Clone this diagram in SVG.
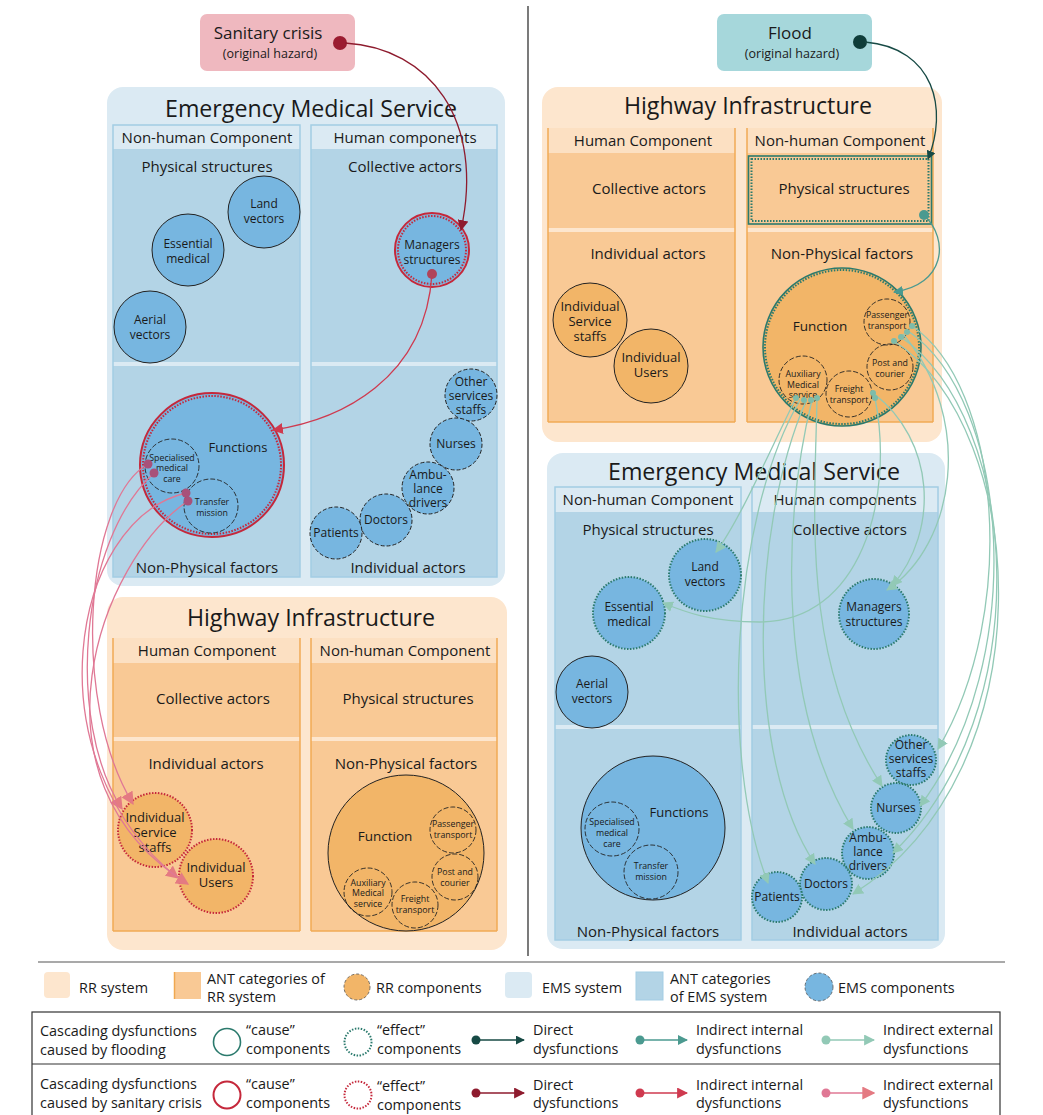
<svg xmlns="http://www.w3.org/2000/svg" width="1043" height="1115" viewBox="0 0 1043 1115">
<defs>
<style>
text{font-family:"Open Sans","Noto Sans",sans-serif;fill:#1a1a1a}
.ttl{font-size:23.2px;text-anchor:middle}
.hdr{font-size:15px;text-anchor:middle}
.cat{font-size:15px;text-anchor:middle}
.lbl{font-size:12px;text-anchor:middle}
.lbl13{font-size:13px;text-anchor:middle}
.sm{font-size:8.8px;text-anchor:middle}
.leg{font-size:14.4px}
.emsSys{fill:#dbeaf3}
.emsCell{fill:#b3d4e6}
.emsCol{fill:none;stroke:#a3cde4;stroke-width:1.5}
.rrSys{fill:#fde6ce}
.rrHdr{fill:#fce0c2}
.rrCell{fill:#f9c995}
.rrCol{fill:none;stroke:#f0aa55;stroke-width:1.5}
.ems{fill:#77b6e0;stroke:#222;stroke-width:1}
.rr{fill:#f2b568;stroke:#222;stroke-width:1}
.sub{fill:none;stroke:#222;stroke-width:0.9;stroke-dasharray:5 2}
.gEff{fill:none;stroke:#2b7a6d;stroke-width:2;stroke-dasharray:1.5 1.5}
.gCause{fill:none;stroke:#2b7a6d;stroke-width:1.6}
.rEff{fill:none;stroke:#c5283b;stroke-width:2;stroke-dasharray:1.5 1.5}
.rCause{fill:none;stroke:#c5283b;stroke-width:2}
.gDir{fill:none;stroke:#174a45;stroke-width:1.3}
.gInt{fill:none;stroke:#4b9a90;stroke-width:1.3}
.gExt{fill:none;stroke:#92c9b6;stroke-width:1.3}
.rDir{fill:none;stroke:#8e1b2e;stroke-width:1.3}
.rInt{fill:none;stroke:#cf3a4f;stroke-width:1.3}
.rExt{fill:none;stroke:#e07895;stroke-width:1.3}
</style>
<marker id="aGDir" viewBox="0 0 10 10" refX="9" refY="5" markerWidth="9" markerHeight="9" markerUnits="userSpaceOnUse" orient="auto"><path d="M0,0 L10,5 L0,10 z" fill="#174a45"/></marker>
<marker id="aGInt" viewBox="0 0 10 10" refX="9" refY="5" markerWidth="10" markerHeight="10" markerUnits="userSpaceOnUse" orient="auto"><path d="M0,0 L10,5 L0,10 z" fill="#4b9a90"/></marker>
<marker id="aGExt" viewBox="0 0 10 10" refX="9" refY="5" markerWidth="11" markerHeight="11" markerUnits="userSpaceOnUse" orient="auto"><path d="M0,0 L10,5 L0,10 z" fill="#92c9b6"/></marker>
<marker id="aRDir" viewBox="0 0 10 10" refX="9" refY="5" markerWidth="11" markerHeight="11" markerUnits="userSpaceOnUse" orient="auto"><path d="M0,0 L10,5 L0,10 z" fill="#8e1b2e"/></marker>
<marker id="aRInt" viewBox="0 0 10 10" refX="9" refY="5" markerWidth="11" markerHeight="11" markerUnits="userSpaceOnUse" orient="auto"><path d="M0,0 L10,5 L0,10 z" fill="#cf3a4f"/></marker>
<marker id="aRExt" viewBox="0 0 10 10" refX="9" refY="5" markerWidth="13" markerHeight="13" markerUnits="userSpaceOnUse" orient="auto"><path d="M0,0 L10,5 L0,10 z" fill="#e47a82"/></marker>
</defs>
<rect width="1043" height="1115" fill="#fff"/>
<line x1="528" y1="6" x2="528" y2="956" stroke="#222" stroke-width="1.2"/>

<g id="sanitary-crisis">
<rect x="200" y="14" width="155" height="57" rx="7" fill="#efb8bf"/>
<text x="268" y="39" style="font-size:17px;text-anchor:middle">Sanitary crisis</text>
<text x="270" y="58" style="font-size:12.5px;text-anchor:middle">(original hazard)</text>
<circle cx="340" cy="43" r="7" fill="#9b1b30"/>
</g>

<g id="ems-left">
<rect x="107" y="87" width="398" height="499" rx="16" class="emsSys"/>
<text x="311" y="117" class="ttl">Emergency Medical Service</text>
<rect x="113" y="149" width="187" height="213" class="emsCell"/>
<rect x="113" y="366" width="187" height="211" class="emsCell"/>
<rect x="311" y="149" width="186" height="213" class="emsCell"/>
<rect x="311" y="366" width="186" height="211" class="emsCell"/>
<rect x="113" y="125" width="187" height="452" class="emsCol"/>
<rect x="311" y="125" width="186" height="452" class="emsCol"/>
<text x="207" y="143" class="hdr">Non-human Component</text>
<text x="405" y="143" class="hdr">Human components</text>
<text x="207" y="172" class="cat">Physical structures</text>
<text x="405" y="172" class="cat">Collective actors</text>
<text x="207" y="573" class="cat">Non-Physical factors</text>
<text x="408" y="573" class="cat">Individual actors</text>
</g>
<g id="l-land-vectors"><circle cx="264" cy="212" r="36" class="ems"/><text class="lbl"><tspan x="264" y="208">Land</tspan><tspan x="264" y="223">vectors</tspan></text></g>
<g id="l-essential-medical"><circle cx="188" cy="250" r="36" class="ems"/><text class="lbl"><tspan x="188" y="248">Essential</tspan><tspan x="188" y="263">medical</tspan></text></g>
<g id="l-aerial-vectors"><circle cx="150" cy="327" r="36" class="ems"/><text class="lbl"><tspan x="150" y="324">Aerial</tspan><tspan x="150" y="339">vectors</tspan></text></g>
<g id="l-managers"><circle cx="432" cy="250" r="36" fill="#77b6e0"/><circle cx="432" cy="250" r="37" class="rCause"/><circle cx="432" cy="250" r="34" class="rEff" stroke-width="1.4"/><text class="lbl"><tspan x="432" y="249">Managers</tspan><tspan x="432" y="264">structures</tspan></text></g>
<g id="l-functions"><circle cx="212" cy="465" r="72" fill="#77b6e0"/><circle cx="212" cy="465" r="72" class="rCause"/><circle cx="212" cy="465" r="69" class="rEff" stroke-width="1.4"/>
<text x="238" y="452" class="lbl13">Functions</text>
<circle cx="172" cy="466" r="27" class="sub"/><text class="sm"><tspan x="172" y="461">Specialised</tspan><tspan x="172" y="471">medical</tspan><tspan x="172" y="482">care</tspan></text>
<circle cx="211" cy="506" r="27" class="sub"/><text class="sm"><tspan x="212" y="505">Transfer</tspan><tspan x="212" y="516">mission</tspan></text></g>
<g id="l-other-staffs"><circle cx="471" cy="395" r="26" class="ems" stroke-dasharray="4 2"/><text class="lbl"><tspan x="471" y="386">Other</tspan><tspan x="471" y="400">services</tspan><tspan x="471" y="414">staffs</tspan></text></g>
<g id="l-nurses"><circle cx="456" cy="444" r="26" class="ems" stroke-dasharray="4 2"/><text x="456" y="448" class="lbl">Nurses</text></g>
<g id="l-ambulance"><circle cx="428" cy="488" r="26" class="ems" stroke-dasharray="4 2"/><text class="lbl"><tspan x="428" y="479">Ambu-</tspan><tspan x="428" y="493">lance</tspan><tspan x="428" y="507">drivers</tspan></text></g>
<g id="l-doctors"><circle cx="386" cy="520" r="26" class="ems" stroke-dasharray="4 2"/><text x="386" y="524" class="lbl">Doctors</text></g>
<g id="l-patients"><circle cx="336" cy="533" r="26" class="ems" stroke-dasharray="4 2"/><text x="336" y="537" class="lbl">Patients</text></g>

<g id="hi-left">
<rect x="107" y="597" width="400" height="353" rx="16" class="rrSys"/>
<text x="311" y="626" class="ttl">Highway Infrastructure</text>
<rect x="113" y="638" width="187" height="25" class="rrHdr"/>
<rect x="311" y="638" width="186" height="25" class="rrHdr"/>
<rect x="113" y="663" width="187" height="74" class="rrCell"/>
<rect x="113" y="741" width="187" height="190" class="rrCell"/>
<rect x="311" y="663" width="186" height="74" class="rrCell"/>
<rect x="311" y="741" width="186" height="190" class="rrCell"/>
<line x1="113" y1="638" x2="113" y2="931" class="rrCol"/><line x1="300" y1="638" x2="300" y2="931" class="rrCol"/>
<line x1="311" y1="638" x2="311" y2="931" class="rrCol"/><line x1="497" y1="638" x2="497" y2="931" class="rrCol"/>
<line x1="113" y1="931" x2="300" y2="931" class="rrCol"/><line x1="311" y1="931" x2="497" y2="931" class="rrCol"/>
<text x="207" y="656" class="hdr">Human Component</text>
<text x="405" y="656" class="hdr">Non-human Component</text>
<text x="213" y="704" class="cat">Collective actors</text>
<text x="408" y="704" class="cat">Physical structures</text>
<text x="206" y="769" class="cat">Individual actors</text>
<text x="406" y="769" class="cat">Non-Physical factors</text>
</g>
<g id="l-ind-service-staffs"><circle cx="155" cy="830" r="37" fill="#f2b568"/><circle cx="155" cy="830" r="37" class="rEff"/><text class="lbl13"><tspan x="155" y="822">Individual</tspan><tspan x="155" y="837">Service</tspan><tspan x="155" y="852">staffs</tspan></text></g>
<g id="l-ind-users"><circle cx="216" cy="876" r="37" fill="#f2b568"/><circle cx="216" cy="876" r="37" class="rEff"/><text class="lbl13"><tspan x="216" y="872">Individual</tspan><tspan x="216" y="887">Users</tspan></text></g>
<g id="l-function"><circle cx="406" cy="853" r="78" class="rr"/>
<text x="385" y="841" style="font-size:13.5px;text-anchor:middle">Function</text>
<circle cx="453" cy="830" r="23" class="sub"/><text class="sm"><tspan x="453" y="827">Passenger</tspan><tspan x="453" y="838">transport</tspan></text>
<circle cx="455" cy="877" r="23" class="sub"/><text class="sm"><tspan x="455" y="875">Post and</tspan><tspan x="455" y="886">courier</tspan></text>
<circle cx="368" cy="892" r="24" class="sub"/><text class="sm"><tspan x="368" y="886">Auxiliary</tspan><tspan x="368" y="896">Medical</tspan><tspan x="368" y="907">service</tspan></text>
<circle cx="415" cy="905" r="23" class="sub"/><text class="sm"><tspan x="415" y="902">Freight</tspan><tspan x="415" y="913">transport</tspan></text></g>

<g id="flood">
<rect x="717" y="14" width="155" height="57" rx="7" fill="#a6d7db"/>
<text x="790" y="39" style="font-size:17px;text-anchor:middle">Flood</text>
<text x="792" y="58" style="font-size:12.5px;text-anchor:middle">(original hazard)</text>
<circle cx="860" cy="42" r="7" fill="#0f3d3a"/>
</g>

<g id="hi-right">
<rect x="542" y="87" width="400" height="355" rx="16" class="rrSys"/>
<text x="748" y="114" class="ttl">Highway Infrastructure</text>
<rect x="548" y="128" width="187" height="25" class="rrHdr"/>
<rect x="747" y="128" width="186" height="25" class="rrHdr"/>
<rect x="548" y="153" width="187" height="75" class="rrCell"/>
<rect x="548" y="232" width="187" height="190" class="rrCell"/>
<rect x="747" y="153" width="186" height="75" class="rrCell"/>
<rect x="747" y="232" width="186" height="190" class="rrCell"/>
<line x1="548" y1="128" x2="548" y2="422" class="rrCol"/><line x1="735" y1="128" x2="735" y2="422" class="rrCol"/>
<line x1="747" y1="128" x2="747" y2="422" class="rrCol"/><line x1="933" y1="128" x2="933" y2="422" class="rrCol"/>
<line x1="548" y1="422" x2="735" y2="422" class="rrCol"/><line x1="747" y1="422" x2="933" y2="422" class="rrCol"/>
<text x="643" y="146" class="hdr">Human Component</text>
<text x="840" y="146" class="hdr">Non-human Component</text>
<text x="649" y="194" class="cat">Collective actors</text>
<text x="648" y="259" class="cat">Individual actors</text>
<text x="842" y="259" class="cat">Non-Physical factors</text>
</g>
<g id="r-physical-structures"><rect x="748.5" y="156" width="183" height="68" class="gCause"/><rect x="751.5" y="159" width="177" height="62" class="gEff" stroke-width="1.6"/><text x="844" y="194" class="cat">Physical structures</text><circle cx="924" cy="215" r="5" fill="#4b9a90"/></g>
<g id="r-ind-service-staffs"><circle cx="590" cy="320" r="37" class="rr"/><text class="lbl13"><tspan x="590" y="311">Individual</tspan><tspan x="590" y="326">Service</tspan><tspan x="590" y="341">staffs</tspan></text></g>
<g id="r-ind-users"><circle cx="651" cy="366" r="37" class="rr"/><text class="lbl13"><tspan x="651" y="362">Individual</tspan><tspan x="651" y="377">Users</tspan></text></g>
<g id="r-function"><circle cx="842" cy="347" r="79" fill="#f2b568"/><circle cx="842" cy="347" r="79" class="gCause"/><circle cx="842" cy="347" r="77" class="gEff" stroke-width="2.4"/>
<text x="820" y="331" style="font-size:13.5px;text-anchor:middle">Function</text>
<circle cx="887" cy="322" r="23" class="sub"/><text class="sm"><tspan x="887" y="318">Passenger</tspan><tspan x="887" y="329">transport</tspan></text>
<circle cx="890" cy="367" r="23" class="sub"/><text class="sm"><tspan x="890" y="366">Post and</tspan><tspan x="890" y="377">courier</tspan></text>
<circle cx="803" cy="380" r="24" class="sub"/><text class="sm"><tspan x="803" y="377">Auxiliary</tspan><tspan x="803" y="388">Medical</tspan><tspan x="803" y="398">service</tspan></text>
<circle cx="849" cy="394" r="23" class="sub"/><text class="sm"><tspan x="849" y="392">Freight</tspan><tspan x="849" y="403">transport</tspan></text></g>

<g id="ems-right">
<rect x="547" y="453" width="398" height="496" rx="16" class="emsSys"/>
<text x="754" y="480" class="ttl">Emergency Medical Service</text>
<rect x="555" y="512" width="186" height="213" class="emsCell"/>
<rect x="555" y="729" width="186" height="211" class="emsCell"/>
<rect x="752" y="512" width="186" height="213" class="emsCell"/>
<rect x="752" y="729" width="186" height="211" class="emsCell"/>
<rect x="555" y="487" width="186" height="453" class="emsCol"/>
<rect x="752" y="487" width="186" height="453" class="emsCol"/>
<text x="648" y="505" class="hdr">Non-human Component</text>
<text x="845" y="505" class="hdr">Human components</text>
<text x="648" y="535" class="cat">Physical structures</text>
<text x="850" y="535" class="cat">Collective actors</text>
<text x="648" y="937" class="cat">Non-Physical factors</text>
<text x="850" y="937" class="cat">Individual actors</text>
</g>
<g id="r-land-vectors"><circle cx="705" cy="575" r="36" fill="#77b6e0"/><circle cx="705" cy="575" r="36" class="gEff"/><text class="lbl"><tspan x="705" y="571">Land</tspan><tspan x="705" y="586">vectors</tspan></text></g>
<g id="r-essential-medical"><circle cx="629" cy="613" r="36" fill="#77b6e0"/><circle cx="629" cy="613" r="36" class="gEff"/><text class="lbl"><tspan x="629" y="611">Essential</tspan><tspan x="629" y="626">medical</tspan></text></g>
<g id="r-aerial-vectors"><circle cx="592" cy="692" r="36" class="ems"/><text class="lbl"><tspan x="592" y="688">Aerial</tspan><tspan x="592" y="703">vectors</tspan></text></g>
<g id="r-managers"><circle cx="874" cy="614" r="35" fill="#77b6e0"/><circle cx="874" cy="614" r="35" class="gEff"/><text class="lbl"><tspan x="874" y="611">Managers</tspan><tspan x="874" y="626">structures</tspan></text></g>
<g id="r-functions"><circle cx="653" cy="828" r="72" class="ems"/>
<text x="679" y="817" class="lbl13">Functions</text>
<circle cx="612" cy="829" r="27" class="sub"/><text class="sm"><tspan x="612" y="825">Specialised</tspan><tspan x="612" y="836">medical</tspan><tspan x="612" y="847">care</tspan></text>
<circle cx="651" cy="872" r="27" class="sub"/><text class="sm"><tspan x="651" y="869">Transfer</tspan><tspan x="651" y="880">mission</tspan></text></g>
<g id="r-other-staffs"><circle cx="911" cy="760" r="25" fill="#77b6e0"/><circle cx="911" cy="760" r="25" class="gEff"/><text class="lbl"><tspan x="911" y="749">Other</tspan><tspan x="911" y="763">services</tspan><tspan x="911" y="777">staffs</tspan></text></g>
<g id="r-nurses"><circle cx="896" cy="808" r="25" fill="#77b6e0"/><circle cx="896" cy="808" r="25" class="gEff"/><text x="896" y="812" class="lbl">Nurses</text></g>
<g id="r-ambulance"><circle cx="868" cy="853" r="26" fill="#77b6e0"/><circle cx="868" cy="853" r="26" class="gEff"/><text class="lbl"><tspan x="868" y="842">Ambu-</tspan><tspan x="868" y="856">lance</tspan><tspan x="868" y="870">drivers</tspan></text></g>
<g id="r-doctors"><circle cx="826" cy="884" r="26" fill="#77b6e0"/><circle cx="826" cy="884" r="26" class="gEff"/><text x="826" y="888" class="lbl">Doctors</text></g>
<g id="r-patients"><circle cx="777" cy="897" r="25" fill="#77b6e0"/><circle cx="777" cy="897" r="25" class="gEff"/><text x="777" y="901" class="lbl">Patients</text></g>

<g id="connectors">
<path class="rDir" d="M345,43 C430,48 485,120 461,230" marker-end="url(#aRDir)"/>
<path class="rInt" d="M432,274 C425,380 340,420 273,430" marker-end="url(#aRInt)"/>
<circle cx="432" cy="274" r="5" fill="#b0445a"/>
<path class="rExt" d="M148,464 C85,500 70,700 133,804" marker-end="url(#aRExt)"/>
<path class="rExt" d="M154,473 C80,540 65,720 122,809" marker-end="url(#aRExt)"/>
<path class="rExt" d="M186,493 C70,520 30,760 178,878" marker-end="url(#aRExt)"/>
<path class="rExt" d="M188,501 C100,560 20,780 188,884" marker-end="url(#aRExt)"/>
<circle cx="148" cy="464" r="4.5" fill="#a8517a"/>
<circle cx="154" cy="473" r="4.5" fill="#a8517a"/>
<circle cx="186" cy="493" r="4.5" fill="#a8517a"/>
<circle cx="188" cy="501" r="4.5" fill="#a8517a"/>

<path class="gDir" d="M865,42 C935,48 948,110 928,159" marker-end="url(#aGDir)"/>
<path class="gInt" d="M924,215 C950,240 945,285 894,292" marker-end="url(#aGInt)"/>

<path class="gExt" d="M796,398 C770,450 740,520 716,552" marker-end="url(#aGExt)"/>
<path class="gExt" d="M800,400 C730,520 720,760 768,883" marker-end="url(#aGExt)"/>
<path class="gExt" d="M806,401 C750,530 745,760 815,864" marker-end="url(#aGExt)"/>
<path class="gExt" d="M812,400 C780,530 780,710 853,829" marker-end="url(#aGExt)"/>
<path class="gExt" d="M817,398 C815,510 800,660 882,786" marker-end="url(#aGExt)"/>
<path class="gExt" d="M873,393 C935,440 940,530 892,586" marker-end="url(#aGExt)"/>
<path class="gExt" d="M875,398 C895,500 860,622 760,622 C710,622 685,612 663,603" marker-end="url(#aGExt)"/>
<path class="gExt" d="M903,334 C975,420 955,545 887,590" marker-end="url(#aGExt)"/>
<path class="gExt" d="M912,326 C1000,385 1020,610 938,749" marker-end="url(#aGExt)"/>
<path class="gExt" d="M908,331 C1010,400 1030,660 920,806" marker-end="url(#aGExt)"/>
<path class="gExt" d="M901,337 C1020,420 1040,710 893,853" marker-end="url(#aGExt)"/>
<path class="gExt" d="M894,341 C1030,430 1050,770 853,894" marker-end="url(#aGExt)"/>
<g fill="#7dbcaa">
<circle cx="796" cy="398" r="3"/><circle cx="804" cy="400" r="3"/><circle cx="811" cy="400" r="3"/><circle cx="817" cy="398" r="3"/>
<circle cx="873" cy="393" r="3"/><circle cx="875" cy="398" r="3"/>
<circle cx="912" cy="326" r="3"/><circle cx="907" cy="332" r="3"/><circle cx="901" cy="337" r="3"/><circle cx="894" cy="341" r="3"/>
</g>
</g>

<g id="legend">
<line x1="38" y1="962" x2="1005" y2="962" stroke="#555" stroke-width="1.2"/>
<rect x="44" y="972" width="26" height="26" rx="4" fill="#fde6ce"/>
<text x="79" y="993" class="leg">RR system</text>
<rect x="174" y="972" width="27" height="27" fill="#f9c995"/><line x1="174.5" y1="972" x2="174.5" y2="999" stroke="#f0a850" stroke-width="1.5"/>
<text class="leg"><tspan x="207" y="984">ANT categories of</tspan><tspan x="207" y="1002">RR system</tspan></text>
<circle cx="357" cy="987" r="13" fill="#f2b568" stroke="#555" stroke-width="0.8" stroke-dasharray="3 2"/>
<text x="376" y="993" class="leg">RR components</text>
<rect x="505" y="972" width="27" height="26" rx="4" fill="#dbeaf3"/>
<text x="542" y="993" class="leg">EMS system</text>
<rect x="636" y="972" width="27" height="28" fill="#b3d4e6" stroke="#a3cde4"/>
<text class="leg"><tspan x="670" y="984">ANT categories</tspan><tspan x="670" y="1002">of EMS system</tspan></text>
<circle cx="819" cy="987" r="14" fill="#77b6e0" stroke="#555" stroke-width="0.8" stroke-dasharray="3 2"/>
<text x="838" y="993" class="leg">EMS components</text>

<rect x="32" y="1012" width="968" height="110" fill="none" stroke="#333" stroke-width="1.2"/>
<line x1="32" y1="1064" x2="1000" y2="1064" stroke="#333" stroke-width="1.2"/>

<text class="leg"><tspan x="40" y="1036">Cascading dysfunctions</tspan><tspan x="40" y="1055">caused by flooding</tspan></text>
<circle cx="227" cy="1042" r="13.5" class="gCause"/>
<text class="leg"><tspan x="246" y="1035">“cause”</tspan><tspan x="246" y="1054">components</tspan></text>
<circle cx="358" cy="1042" r="13.5" class="gEff" stroke-width="1.3"/>
<text class="leg"><tspan x="377" y="1035">“effect”</tspan><tspan x="377" y="1054">components</tspan></text>
<circle cx="476" cy="1040" r="4.5" fill="#174a45"/><line x1="476" y1="1040" x2="524" y2="1040" class="gDir" marker-end="url(#aGDir)"/>
<text class="leg"><tspan x="533" y="1035">Direct</tspan><tspan x="533" y="1054">dysfunctions</tspan></text>
<circle cx="640" cy="1040" r="4.5" fill="#4b9a90"/><line x1="640" y1="1040" x2="687" y2="1040" class="gInt" marker-end="url(#aGInt)"/>
<text class="leg"><tspan x="696" y="1035">Indirect internal</tspan><tspan x="696" y="1054">dysfunctions</tspan></text>
<circle cx="826" cy="1040" r="4.5" fill="#92c9b6"/><line x1="826" y1="1040" x2="874" y2="1040" class="gExt" marker-end="url(#aGExt)"/>
<text class="leg"><tspan x="883" y="1035">Indirect external</tspan><tspan x="883" y="1054">dysfunctions</tspan></text>

<text class="leg"><tspan x="40" y="1089">Cascading dysfunctions</tspan><tspan x="40" y="1108">caused by sanitary crisis</tspan></text>
<circle cx="227" cy="1095" r="13.5" class="rCause" stroke-width="1.6"/>
<text class="leg"><tspan x="246" y="1089">“cause”</tspan><tspan x="246" y="1108">components</tspan></text>
<circle cx="358" cy="1095" r="13.5" class="rEff" stroke-width="1.3"/>
<text class="leg"><tspan x="377" y="1091">“effect”</tspan><tspan x="377" y="1110">components</tspan></text>
<circle cx="476" cy="1093" r="4.5" fill="#8e1b2e"/><line x1="476" y1="1093" x2="524" y2="1093" class="rDir" stroke-width="2" marker-end="url(#aRDir)"/>
<text class="leg"><tspan x="533" y="1090">Direct</tspan><tspan x="533" y="1108">dysfunctions</tspan></text>
<circle cx="640" cy="1093" r="4.5" fill="#cf3a4f"/><line x1="640" y1="1093" x2="687" y2="1093" class="rInt" stroke-width="2" marker-end="url(#aRInt)"/>
<text class="leg"><tspan x="696" y="1090">Indirect internal</tspan><tspan x="696" y="1108">dysfunctions</tspan></text>
<circle cx="826" cy="1093" r="4.5" fill="#e07895"/><line x1="826" y1="1093" x2="874" y2="1093" class="rExt" stroke-width="2" marker-end="url(#aRExt)"/>
<text class="leg"><tspan x="883" y="1090">Indirect external</tspan><tspan x="883" y="1108">dysfunctions</tspan></text>
</g>
</svg>
